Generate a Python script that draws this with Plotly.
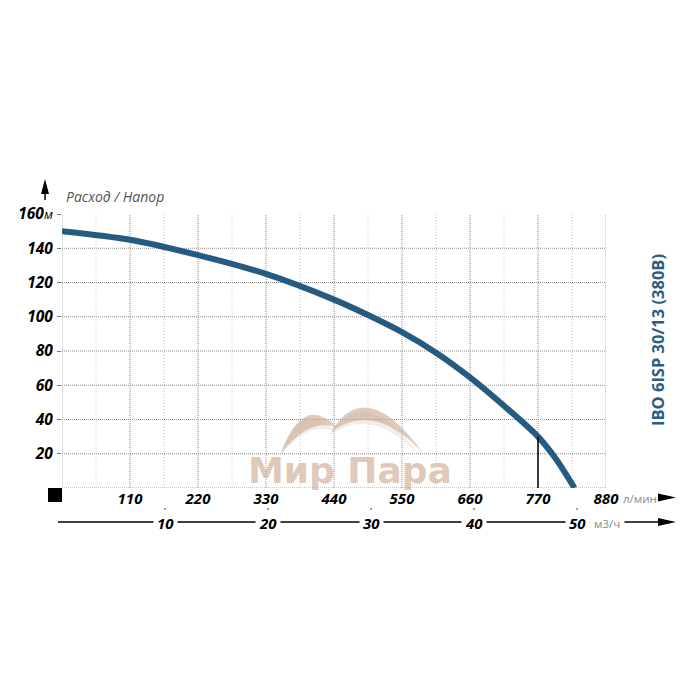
import plotly.graph_objects as go

# ---------------- data ----------------
flow_lpm = [0, 110, 220, 330, 440, 495, 550, 605, 660, 715, 770, 800, 829]
head_m = [150, 145, 136, 125, 110, 101, 91, 79, 64.6, 48, 30, 16.5, 0]

op_flow = 770
op_head = 30

x_ticks = [110, 220, 330, 440, 550, 660, 770, 880]
x_ticktext = ["110", "220", "330", "440", "550", "660", "770", "880"]
y_ticks = [20, 40, 60, 80, 100, 120, 140, 160]
y_ticktext = ["20", "40", "60", "80", "100", "120", "140",
              "160<span style='font-size:13px;font-weight:normal'>м</span>"]
m3h_ticks = [10, 20, 30, 40, 50]

x_grid_major = [0, 110, 220, 330, 440, 550, 660, 770, 880]
x_grid_minor = [55, 165, 275, 385, 495, 605, 715, 825]
y_grid = [0, 20, 40, 60, 80, 100, 120, 140]

title_text = "IBO 6ISP 30/13 (380B)"
axis_title = "Расход / Напор"
watermark = "Мир Пара"

# ---------------- layout helpers (screen pixel -> paper) ----------------
OFF = 8  # page body margin of the html page
W = H = 700
PL, PR, PT, PB = 62, 606, 214, 488  # plot area in screen pixels
L = PL - OFF
T = PT - OFF
R = W - (PR - OFF)
B = H - (PB - OFF)
PW, PH = PR - PL, PB - PT


def px(xp):
    return (xp - PL) / PW


def py(yp):
    return (PB - yp) / PH


fig = go.Figure()

fig.add_trace(go.Scatter(
    x=flow_lpm, y=head_m, mode="lines",
    line=dict(color="#255b80", width=6, shape="spline", smoothing=0.8),
    hoverinfo="skip", showlegend=False))

fig.add_trace(go.Scatter(
    x=[op_flow, op_flow], y=[0, op_head], mode="lines",
    line=dict(color="black", width=1.5), showlegend=False, hoverinfo="skip"))

shapes = []
for gx in x_grid_minor:
    shapes.append(dict(type="line", xref="x", yref="y", x0=gx, x1=gx, y0=0, y1=160,
                       line=dict(color="#c4c4c4", width=1, dash="1px,2px"), layer="below"))
for gx in x_grid_major:
    shapes.append(dict(type="line", xref="x", yref="y", x0=gx, x1=gx, y0=0, y1=160,
                       line=dict(color="#8f8f8f", width=1, dash="1px,1px"), layer="below"))
for gy in y_grid:
    shapes.append(dict(type="line", xref="x", yref="y", x0=0, x1=880, y0=gy, y1=gy,
                       line=dict(color="#8f8f8f", width=1, dash="1px,1px"), layer="below"))

# black square at origin
shapes.append(dict(type="rect", xref="paper", yref="paper",
                   x0=px(48), x1=px(62), y0=py(502), y1=py(488),
                   fillcolor="black", line=dict(width=0)))

# arrow up (y axis)
shapes.append(dict(type="path", xref="paper", yref="paper",
                   path=f"M{px(45)},{py(179)} L{px(41)},{py(194)} L{px(49)},{py(194)} Z",
                   fillcolor="black", line=dict(width=0)))
shapes.append(dict(type="line", xref="paper", yref="paper",
                   x0=px(45), x1=px(45), y0=py(193), y1=py(200),
                   line=dict(color="black", width=1.5)))

# arrow right (top flow axis)
shapes.append(dict(type="path", xref="paper", yref="paper",
                   path=f"M{px(676)},{py(497.5)} L{px(658)},{py(493.5)} L{px(658)},{py(501.5)} Z",
                   fillcolor="black", line=dict(width=0)))

# secondary axis line + arrow
shapes.append(dict(type="line", xref="paper", yref="paper",
                   x0=px(58), x1=px(662), y0=py(522), y1=py(522),
                   line=dict(color="black", width=1.5)))
shapes.append(dict(type="path", xref="paper", yref="paper",
                   path=f"M{px(676)},{py(522)} L{px(658)},{py(518)} L{px(658)},{py(526)} Z",
                   fillcolor="black", line=dict(width=0)))
for m in m3h_ticks:
    shapes.append(dict(type="line", xref="x", yref="paper",
                       x0=m * 1000 / 60, x1=m * 1000 / 60, y0=py(513), y1=py(508.5),
                       line=dict(color="black", width=1.5)))


# watermark arcs (crescents)
def crescent(a, b, c_out, c_in, dx=0, dy=0):
    ax_, ay_ = a
    bx_, by_ = b
    return (f"M{px(ax_+dx)},{py(ay_+dy)} Q{px(c_out[0]+dx)},{py(c_out[1]+dy)} {px(bx_+dx)},{py(by_+dy)} "
            f"Q{px(c_in[0]+dx)},{py(c_in[1]+dy)} {px(ax_+dx)},{py(ay_+dy)} Z")


arcs = [((281, 453), (338, 428), (303, 392), (311, 416)),
        ((331, 432), (423, 453), (366, 374), (374, 400))]
for a, b, co, ci in arcs:
    shapes.append(dict(type="path", xref="paper", yref="paper",
                       path=crescent(a, b, co, ci, -2, 4),
                       fillcolor="rgba(220,200,185,0.35)", line=dict(width=0)))
    shapes.append(dict(type="path", xref="paper", yref="paper",
                       path=crescent(a, b, co, ci),
                       fillcolor="rgba(200,168,145,0.6)", line=dict(width=0)))

annotations = []
annotations.append(dict(xref="paper", yref="paper", x=px(64), y=py(197),
                        xanchor="left", yanchor="middle", showarrow=False,
                        text=axis_title,
                        font=dict(family="Open Sans", size=14, color="#555555", style="italic")))
annotations.append(dict(xref="paper", yref="paper", x=px(657), y=py(340),
                        xanchor="center", yanchor="middle", showarrow=False, textangle=-90,
                        text=title_text,
                        font=dict(family="Open Sans", size=16.5, color="#2a5d80", weight="bold")))
annotations.append(dict(xref="x", yref="paper", x=880, y=py(498.5), xshift=15,
                        xanchor="left", yanchor="middle", showarrow=False,
                        text="л/мин",
                        font=dict(family="Open Sans", size=11.5, color="#8a8a8a")))
for m in m3h_ticks:
    annotations.append(dict(xref="x", yref="paper", x=m * 1000 / 60, y=py(523),
                            xanchor="center", yanchor="middle", showarrow=False,
                            text=str(m), bgcolor="white", borderpad=3,
                            font=dict(family="Open Sans", size=15, color="black",
                                      weight="bold", style="italic")))
annotations.append(dict(xref="x", yref="paper", x=m3h_ticks[-1] * 1000 / 60, y=py(523.5), xshift=12,
                        xanchor="left", yanchor="middle", showarrow=False,
                        text="м3/ч", bgcolor="white", borderpad=4,
                        font=dict(family="Open Sans", size=11.5, color="#8a8a8a")))
annotations.append(dict(xref="paper", yref="paper", x=px(350), y=py(470),
                        xanchor="center", yanchor="middle", showarrow=False,
                        text=f"<b>{watermark}</b>",
                        font=dict(family="DejaVu Sans", size=36, color="rgba(200,165,140,0.6)")))

fig.update_layout(
    width=W, height=H,
    margin=dict(l=L, r=R, t=T, b=B, pad=0),
    paper_bgcolor="white", plot_bgcolor="white",
    shapes=shapes, annotations=annotations,
    showlegend=False,
    xaxis=dict(range=[0, 880], showgrid=False, zeroline=False, showline=False,
               tickvals=x_ticks, ticktext=x_ticktext, ticks="", automargin=False,
               tickfont=dict(family="Open Sans", size=15, color="black",
                             weight="bold", style="italic")),
    yaxis=dict(range=[0, 160], showgrid=False, zeroline=False, showline=False,
               tickvals=y_ticks, ticktext=y_ticktext, ticks="outside", ticklen=4,
               tickcolor="#777777", tickwidth=1, automargin=False, ticklabelstandoff=1,
               tickfont=dict(family="Open Sans", size=15.5, color="black",
                             weight="bold", style="italic")),
)

fig.write_html("out.html")
